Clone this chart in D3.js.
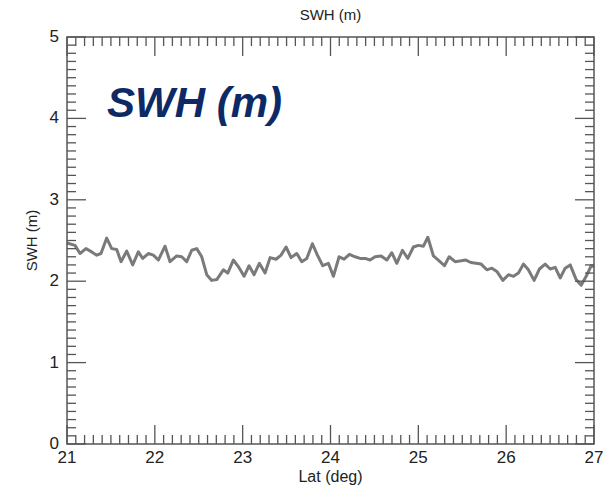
<!DOCTYPE html>
<html>
<head>
<meta charset="utf-8">
<script src="https://cdn.jsdelivr.net/npm/d3@7"></script>
<style>
  body { margin: 0; background: #fff; }
  text { font-family: "Liberation Sans", Arial, sans-serif; }
</style>
</head>
<body>
<div class="chart"></div>
<script>
// Data
const lat = [21.000, 21.091, 21.148, 21.216, 21.281, 21.338, 21.387, 21.452, 21.509, 21.566,
  21.615, 21.680, 21.748, 21.812, 21.862, 21.926, 21.983, 22.040, 22.116, 22.173,
  22.249, 22.306, 22.363, 22.420, 22.477, 22.534, 22.591, 22.648, 22.705, 22.780,
  22.830, 22.894, 22.951, 23.016, 23.073, 23.130, 23.190, 23.255, 23.312, 23.380,
  23.437, 23.494, 23.551, 23.616, 23.673, 23.730, 23.794, 23.851, 23.912, 23.976,
  24.033, 24.098, 24.155, 24.215, 24.280, 24.337, 24.394, 24.451, 24.508, 24.576,
  24.641, 24.698, 24.755, 24.819, 24.880, 24.944, 25.001, 25.058, 25.108, 25.172,
  25.237, 25.297, 25.351, 25.419, 25.487, 25.541, 25.598, 25.655, 25.715, 25.780,
  25.837, 25.894, 25.962, 26.026, 26.083, 26.140, 26.196, 26.253, 26.318, 26.379,
  26.444, 26.501, 26.558, 26.615, 26.672, 26.729, 26.797, 26.854, 26.911, 26.968, 27.000];

const swh = [2.47, 2.44, 2.34, 2.40, 2.36, 2.32, 2.34, 2.53, 2.40, 2.39,
  2.24, 2.37, 2.20, 2.36, 2.28, 2.34, 2.32, 2.26, 2.43, 2.24,
  2.31, 2.30, 2.24, 2.38, 2.40, 2.30, 2.08, 2.01, 2.02, 2.14,
  2.10, 2.26, 2.18, 2.06, 2.19, 2.08, 2.22, 2.10, 2.29, 2.27,
  2.32, 2.42, 2.29, 2.34, 2.24, 2.28, 2.46, 2.32, 2.19, 2.22,
  2.06, 2.30, 2.27, 2.33, 2.30, 2.28, 2.28, 2.26, 2.30, 2.31,
  2.26, 2.35, 2.22, 2.38, 2.28, 2.42, 2.44, 2.43, 2.54, 2.31,
  2.25, 2.19, 2.30, 2.24, 2.25, 2.26, 2.23, 2.22, 2.21, 2.14,
  2.16, 2.12, 2.01, 2.08, 2.06, 2.10, 2.21, 2.14, 2.01, 2.15,
  2.21, 2.15, 2.17, 2.04, 2.16, 2.20, 2.02, 1.95, 2.06, 2.19, 2.18];

const xTicks = [21, 22, 23, 24, 25, 26, 27];
const yTicks = [0, 1, 2, 3, 4, 5];

const width = 613;
const height = 486;
const margin = {top: 37, left: 67, right: 19, bottom: 42};

const xScale = d3.scaleLinear()
  .domain([21, 27])
  .range([margin.left, width - margin.right]);

const yScale = d3.scaleLinear()
  .domain([0, 5])
  .range([height - margin.bottom, margin.top]);

const svg = d3.select('.chart')
  .append('svg')
  .attr('width', width)
  .attr('height', height);

const axisColor = '#555';
const majorLen = 19, minorLen = 9;

// minor ticks: ten per unit on both axes
const xMinor = d3.range(210, 271).map(d => d / 10).filter(d => !xTicks.includes(d));
const yMinor = d3.range(0, 51).map(d => d / 10).filter(d => !yTicks.includes(d));

const x0 = xScale(21), x1 = xScale(27);
const y0 = yScale(0), y1 = yScale(5);

// data line
const line = d3.line()
  .x((d, i) => xScale(lat[i]))
  .y(d => yScale(d));

svg.append('path')
  .datum(swh)
  .attr('d', line)
  .attr('fill', 'none')
  .attr('stroke', '#7a7a7a')
  .attr('stroke-width', 3)
  .attr('stroke-linejoin', 'round');

// ticks pointing inward on all four sides
const ticks = svg.append('g').attr('stroke', axisColor).attr('stroke-width', 1.3);

function xTickMarks(vals, len) {
  vals.forEach(v => {
    ticks.append('line').attr('x1', xScale(v)).attr('x2', xScale(v))
      .attr('y1', y0).attr('y2', y0 - len);
    ticks.append('line').attr('x1', xScale(v)).attr('x2', xScale(v))
      .attr('y1', y1).attr('y2', y1 + len);
  });
}
function yTickMarks(vals, len) {
  vals.forEach(v => {
    ticks.append('line').attr('y1', yScale(v)).attr('y2', yScale(v))
      .attr('x1', x0).attr('x2', x0 + len);
    ticks.append('line').attr('y1', yScale(v)).attr('y2', yScale(v))
      .attr('x1', x1).attr('x2', x1 - len);
  });
}
xTickMarks(xTicks, majorLen);
xTickMarks(xMinor, minorLen);
yTickMarks(yTicks, majorLen);
yTickMarks(yMinor, minorLen);

// plot box
svg.append('rect')
  .attr('x', x0).attr('y', y1)
  .attr('width', x1 - x0).attr('height', y0 - y1)
  .attr('fill', 'none')
  .attr('stroke', axisColor)
  .attr('stroke-width', 1.5);

// tick labels
svg.selectAll('.xlab')
  .data(xTicks)
  .enter()
  .append('text')
  .attr('class', 'xlab')
  .attr('x', d => xScale(d))
  .attr('y', y0 + 19)
  .attr('text-anchor', 'middle')
  .attr('font-size', 17)
  .attr('fill', '#222')
  .text(d => d);

svg.selectAll('.ylab')
  .data(yTicks)
  .enter()
  .append('text')
  .attr('class', 'ylab')
  .attr('x', x0 - 8)
  .attr('y', d => yScale(d) + 5)
  .attr('text-anchor', 'end')
  .attr('font-size', 17)
  .attr('fill', '#222')
  .text(d => d);

// titles
svg.append('text')
  .attr('x', (x0 + x1) / 2)
  .attr('y', 20)
  .attr('text-anchor', 'middle')
  .attr('font-size', 15)
  .attr('fill', '#222')
  .text('SWH (m)');

svg.append('text')
  .attr('x', (x0 + x1) / 2)
  .attr('y', 482)
  .attr('text-anchor', 'middle')
  .attr('font-size', 16)
  .attr('fill', '#222')
  .text('Lat (deg)');

svg.append('text')
  .attr('transform', `translate(37,${(y0 + y1) / 2}) rotate(-90)`)
  .attr('text-anchor', 'middle')
  .attr('font-size', 15)
  .attr('fill', '#222')
  .text('SWH (m)');

// big overlay label
svg.append('text')
  .attr('x', 107)
  .attr('y', 117)
  .attr('font-size', 42)
  .attr('font-weight', 'bold')
  .attr('font-style', 'italic')
  .attr('fill', '#0d2a66')
  .text('SWH (m)');
</script>
</body>
</html>
